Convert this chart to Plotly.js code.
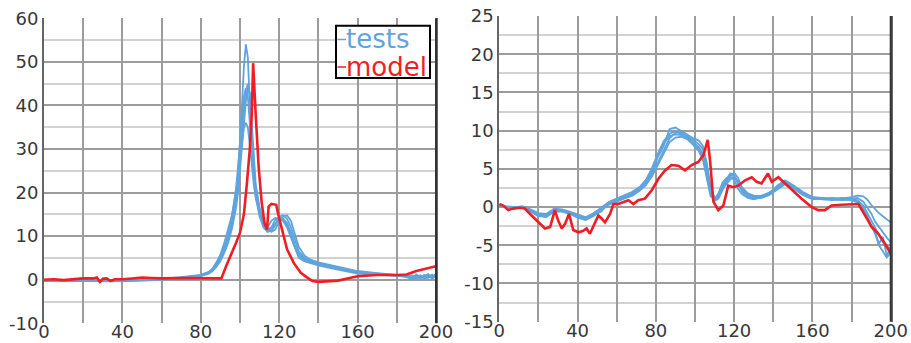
<!DOCTYPE html>
<html><head><meta charset="utf-8">
<script src="https://cdn.plot.ly/plotly-3.0.1.min.js"></script>
<style>html,body{margin:0;padding:0;background:#fff;}#chart{width:911px;height:343px;}</style>
</head><body><div id="chart"></div>
<script>
// ---------- Left panel data ----------
const leftTestX = [0,10,20,30,40,50,60,65,70,75,80,84,86,88,90,92,94,96,98,99,100,101,102,103,104,105,106,107,108,110,112,114,116,118,120,122,124,126,128,130,133,136,140,145,150,155,160,170,180,185,188,190,192,194,196,198,200];
const leftTest1 = [-0.2,-0.3,-0.2,-0.4,-0.3,-0.1,0.1,0.3,0.5,0.7,1.0,1.6,2.2,3.5,5.0,7.0,9.5,13,19,24,31,40,49,54,51,40,30,24,20,15,12.5,11.5,12,13.8,14.2,14,12.5,10,7.5,5.5,4.5,4,3.5,3,2.6,2.1,1.7,1.3,1.0,0.8,0.3,0.9,0.2,1.0,0.4,1.1,0.7];
const leftTest2 = [-0.1,-0.2,-0.1,-0.3,-0.2,0,0.2,0.4,0.6,0.8,1.1,1.8,2.6,4.0,5.5,7.5,10,13.5,18,22,27,33,39,43,45,42,33,26,21,16,13,11,11.2,12.5,14.5,14.8,14,12,9,6.5,5,4.3,3.8,3.3,2.8,2.3,1.8,1.4,1.1,0.9,0.5,1.2,0.4,0.8,1.3,0.5,1.4];
const leftTest3 = [-0.3,-0.2,-0.3,-0.2,-0.4,-0.2,0,0.2,0.4,0.6,0.9,1.4,2.0,3.0,4.3,6.2,8.5,12,16.5,20,25,30,36,41,44,43,36,28,22,16.5,13.5,12,11,11.5,13.5,14.5,14.8,13.5,10.5,7.5,5.5,4.6,4.0,3.5,3,2.5,2,1.5,1.1,0.7,1.0,0.2,0.9,0.3,1.1,0.2,0.9];
const leftTest4 = [-0.2,-0.1,-0.2,-0.3,-0.1,-0.1,0.1,0.2,0.5,0.7,1.0,1.7,2.4,3.8,5.8,8.5,11.5,15,20,24,28,32,35,36,35,31,26,22,19,15,12.5,12,13.5,14.2,14,13.5,12,9.5,7,5,4.2,3.8,3.3,2.8,2.3,1.8,1.4,1.1,0.9,0.6,0.1,0.7,1.0,0.2,0.6,1.2,0.5];
const leftTest5 = [-0.2,-0.3,-0.2,-0.2,-0.3,-0.2,0,0.2,0.4,0.6,0.9,1.5,2.1,3.2,4.8,7.2,10.5,15,21,26,32,38,42,44,42,36,29,23,19,14.5,12,11,11.8,13,14,14,13,10.8,8,6,4.8,4.2,3.6,3.1,2.6,2.2,1.7,1.3,1.0,0.8,0.4,0.9,0.3,1.1,0.5,0.8,1.0];
const leftModelX = [0,5,10,15,20,25,27,28.5,30,32,34,36,40,45,50,55,60,70,80,85,90.5,93,96,98,100,102,103.5,105,106,106.7,108,109.5,111,112.5,113.8,114.6,116,118.5,119.5,121,124,127.5,131,134,137,140,145,150,160,170,180,185,190,195,200];
const leftModelY = [0,0.1,-0.1,0.1,0.3,0.3,0.5,-0.5,0.2,0.3,-0.3,0.1,0.1,0.3,0.5,0.4,0.3,0.4,0.3,0.3,0.3,3.2,6.2,8.5,10.8,15,22,30,38,49.7,38,26,18,13,11.5,16.8,17.4,17.2,15,12.5,7,3.8,1.6,0.6,-0.3,-0.5,-0.4,-0.2,0.8,1.1,1.1,1.2,2.0,2.5,3.1];
const leftYTicks = [-10,0,10,20,30,40,50,60];

// ---------- Right panel data ----------
const rightTestX = [0,4,8,12,16,20,24,28,32,36,40,44,48,52,56,60,64,68,72,75,78,81,84,87,90,93,96,99,102,104,106,108,110,112,114,116,118,120,122,124,127,130,134,138,142,146,150,155,160,165,170,175,180,183,186,188,190,192,194,196,198,200];
const rightTest1 = [0.3,0,0,0.1,-0.4,-0.9,-1.0,-0.4,-0.5,-0.7,-1.1,-1.4,-0.8,-0.2,0.5,0.9,1.3,1.7,2.4,3.2,4.6,6.5,8.0,10.2,10.4,10.0,9.5,9.0,8.7,8.0,5.5,2.5,1.2,1.6,2.8,3.6,4.4,4.2,3.0,2.2,1.6,1.4,1.5,1.9,2.6,3.3,2.6,1.6,1.1,1.2,1.0,1.1,1.3,1.5,1.4,1.0,0.3,-0.3,-0.8,-1.2,-1.6,-2.0];
const rightTest2 = [0.2,-0.1,0,0,-0.6,-1.2,-1.3,-0.6,-0.6,-0.9,-1.4,-1.7,-1.2,-0.5,0.4,0.8,1.1,1.5,2.2,2.9,4.2,5.8,7.5,9.0,9.7,9.8,9.2,8.5,7.8,7.0,4.8,1.8,0.9,1.3,2.5,3.3,4.0,4.5,3.8,2.5,1.5,1.1,1.2,1.6,2.3,3.0,2.8,1.9,1.2,1.0,0.9,1.0,1.0,0.9,0.2,-0.8,-1.7,-2.8,-3.8,-4.6,-5.1,-5.5];
const rightTest3 = [0.3,0,-0.1,0,-0.5,-1.0,-1.1,-0.3,-0.4,-0.8,-1.3,-1.6,-1.0,-0.6,0.6,1.0,1.4,1.8,2.5,3.4,4.9,6.8,8.3,9.3,9.5,9.4,9.0,8.2,7.3,6.2,3.6,1.4,1.0,1.8,3.2,3.8,3.9,3.6,2.4,1.7,1.2,1.0,1.3,1.8,2.5,3.4,2.5,1.6,1.0,1.1,1.2,1.0,0.9,0.6,-0.5,-1.5,-2.6,-3.2,-4.8,-3.9,-6.4,-5.2];
const rightTest4 = [0.2,0.1,0,0,-0.3,-0.8,-0.9,-0.2,-0.3,-0.6,-1.0,-1.3,-0.9,-0.1,0.7,1.1,1.5,2.0,2.7,3.6,5.1,7.0,8.6,9.6,9.9,9.6,9.3,8.8,8.2,7.6,5.8,2.2,1.1,1.5,2.4,3.0,3.6,3.9,3.3,2.0,1.4,1.2,1.3,1.7,2.4,3.1,2.7,1.8,1.3,1.1,1.1,1.2,1.1,1.2,0.7,0,-0.8,-1.9,-2.6,-3.4,-4.0,-4.6];
const rightTest5 = [0.3,0,0,0.1,-0.4,-1.1,-1.2,-0.5,-0.5,-0.8,-1.2,-1.5,-1.1,-0.4,0.3,0.7,1.2,1.6,2.3,3.0,4.0,5.5,7.1,8.5,9.1,9.2,8.9,8.3,7.6,6.6,4.2,1.6,0.8,1.1,2.2,3.1,4.2,4.0,3.4,2.6,1.8,1.5,1.4,1.8,2.8,3.5,2.9,2.0,1.3,1.2,1.0,0.9,1.0,0.8,-0.2,-1.2,-2.3,-3.5,-5.0,-5.8,-6.6,-6.0];
const rightModelX = [0,2,4.6,7,10.6,13,16.5,20,23.3,26,28.4,30,31.9,33.6,35.6,37.8,40.4,42.9,44.6,46.3,48,50.6,52.3,54,56.6,58.3,60.8,63.4,66,68.5,71,74.4,77.9,81.3,84.7,88,91.5,94.9,98.3,101.7,104.3,106.5,107.7,109.4,111.9,114.5,117,119.6,122.1,125.6,129,131.5,134,137.3,139.2,142.6,146,149.4,154.5,159.6,163,166.4,169.8,174.9,180,183.5,186.9,190.3,193.7,197.1,200];
const rightModelY = [0.4,0.2,-0.4,-0.2,-0.1,-0.2,-1.1,-2.0,-2.8,-2.6,-0.4,-1.7,-2.8,-2.2,-0.9,-3.0,-3.3,-3.1,-2.8,-3.5,-2.6,-1.1,-1.5,-2.0,-0.9,0.4,0.4,0.7,0.9,0.4,0.9,1.1,2.2,3.7,4.8,5.5,5.4,4.8,5.5,5.9,6.8,8.8,6.1,0.7,-0.4,0.2,2.8,2.6,2.8,3.5,3.9,3.3,3.1,4.4,3.3,3.9,3.1,2.2,1.1,0,-0.4,-0.4,0.2,0.3,0.4,0.4,-1.1,-2.6,-3.5,-4.8,-6.1];
const rightYTicks = [-15,-10,-5,0,5,10,15,20,25];

const xTickVals = [0,40,80,120,160,200];
const legendLabels = ['tests','model'];

const BLUE = '#5fa4dd', RED = '#f21d24';
const W = 911, H = 343;
const px = v => v / W, py = v => 1 - v / H;

const traces = [];
[leftTest1,leftTest2,leftTest3,leftTest4,leftTest5].forEach(y => traces.push({x:leftTestX,y:y,xaxis:'x',yaxis:'y',mode:'lines',line:{color:BLUE,width:1.8},showlegend:false,hoverinfo:'skip'}));
traces.push({x:leftModelX,y:leftModelY,xaxis:'x',yaxis:'y',mode:'lines',line:{color:RED,width:2.6},showlegend:false,hoverinfo:'skip'});
[rightTest1,rightTest2,rightTest3,rightTest4,rightTest5].forEach(y => traces.push({x:rightTestX,y:y,xaxis:'x2',yaxis:'y2',mode:'lines',line:{color:BLUE,width:1.8},showlegend:false,hoverinfo:'skip'}));
traces.push({x:rightModelX,y:rightModelY,xaxis:'x2',yaxis:'y2',mode:'lines',line:{color:RED,width:2.6},showlegend:false,hoverinfo:'skip'});

const tickFont = {family:'DejaVu Sans', size:18, color:'#383838'};
const GRID = '#9c9c9c', MINOR = '#d2d2d2';
function xAxis(dom, anchor){
  return {domain:dom, anchor:anchor, range:[0,200], tickmode:'linear', tick0:0, dtick:20,
    tickvals:null, showgrid:true, gridcolor:GRID, gridwidth:2,
    showline:false, zeroline:false, ticks:'', ticklabelstandoff:-4, tickfont:tickFont, fixedrange:true,
    tickmode:'array', tickvals:[0,20,40,60,80,100,120,140,160,180,200], ticktext:['0','','40','','80','','120','','160','','200']};
}
function yAxis(dom, anchor, rng, vals, dt){
  return {domain:dom, anchor:anchor, range:rng, tickmode:'array', tickvals:vals, ticktext:vals.map(v => String(v)),
    showgrid:true, gridcolor:GRID, gridwidth:2,
    minor:{tickmode:'linear', dtick:dt/2, tick0:dt/2, showgrid:true, gridcolor:MINOR, gridwidth:2},
    showline:true, mirror:true, linecolor:'#666', linewidth:2, zeroline:false, ticks:'', tickfont:tickFont, fixedrange:true};
}

const layout = {
  width:W, height:H, margin:{l:0,r:0,t:0,b:0}, paper_bgcolor:'#fff', plot_bgcolor:'#fff', showlegend:false,
  xaxis: xAxis([px(44), px(436)], 'y'),
  yaxis: yAxis([1-323.3/H, 1-18.3/H], 'x', [-10,60], leftYTicks, 10),
  xaxis2: xAxis([px(499.3), px(890.7)], 'y2'),
  yaxis2: yAxis([1-321.7/H, 1-16/H], 'x2', [-15,25], rightYTicks, 5),
  shapes: [
    {type:'line', xref:'x domain', yref:'y domain', x0:1, x1:1, y0:0, y1:1, line:{color:'#333', width:2}, layer:'above'},
    {type:'line', xref:'x2 domain', yref:'y2 domain', x0:1, x1:1, y0:0, y1:1, line:{color:'#333', width:2}, layer:'above'},
    {type:'rect', xref:'paper', yref:'paper', x0:px(336), x1:px(430), y0:py(78), y1:py(25.7), line:{color:'#000', width:2}, fillcolor:'#fff', layer:'above'},
    {type:'line', xref:'paper', yref:'paper', x0:px(337.5), x1:px(346), y0:py(39.5), y1:py(39.5), line:{color:BLUE, width:1.5}, layer:'above'},
    {type:'line', xref:'paper', yref:'paper', x0:px(337.5), x1:px(346), y0:py(67), y1:py(67), line:{color:RED, width:1.5}, layer:'above'}
  ],
  annotations: [
    {xref:'paper', yref:'paper', x:px(344), y:py(39), xanchor:'left', yanchor:'middle', showarrow:false, text:legendLabels[0], font:{family:'DejaVu Sans', size:26, color:BLUE}},
    {xref:'paper', yref:'paper', x:px(344), y:py(67), xanchor:'left', yanchor:'middle', showarrow:false, text:legendLabels[1], font:{family:'DejaVu Sans', size:26, color:RED}}
  ]
};

Plotly.newPlot('chart', traces, layout, {staticPlot:true, displayModeBar:false});
</script></body></html>
